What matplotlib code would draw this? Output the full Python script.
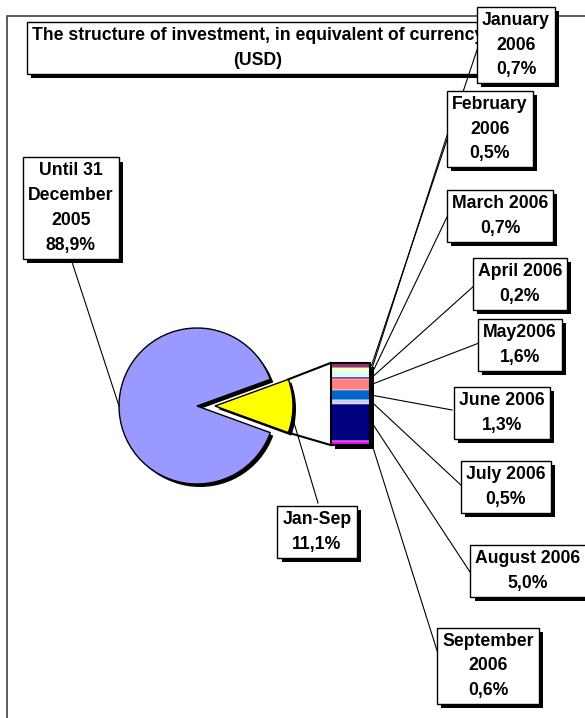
import numpy as np
import matplotlib
matplotlib.use('Agg')
import matplotlib.pyplot as plt
import matplotlib.patheffects as pe
from matplotlib.patches import Rectangle

# pie data: the "other" slice first so it can sit on the right
pie_labels = ['Jan-Sep', 'Until 31\nDecember\n2005']
pie_values = [11.1, 88.9]
pie_colors = ['#FFFF00', '#9999FF']

# bar of pie: monthly split of the Jan-Sep slice
months = ['January\n2006', 'February\n2006', 'March 2006', 'April 2006', 'May2006',
          'June 2006', 'July 2006', 'August 2006', 'September\n2006']
month_values = [0.7, 0.5, 0.7, 0.2, 1.6, 1.3, 0.5, 5.0, 0.6]
month_colors = ['#993366', '#FFFFCC', '#CCFFFF', '#660066', '#FF8080',
                '#0066CC', '#CCCCFF', '#000080', '#FF00FF']

title = 'The structure of investment, in equivalent of currency\n(USD)'

W, H = 585, 718


def Y(y):
    # picture rows run downwards, axes run upwards
    return H - y


def pct(v):
    return f'{v:.1f}'.replace('.', ',') + '%'


fig = plt.figure(figsize=(W / 100, H / 100), dpi=100)
ax = fig.add_axes([0, 0, 1, 1])

# chart area frame
ax.add_patch(Rectangle((7, -20), 620, Y(16) + 20, fill=False, ec='#404040', lw=1.2, zorder=0))

# pie + shadow
cx, cy, r, expl = 197, Y(406), 78, 18
start = -pie_values[0] / 100 * 360 / 2
ax.pie(pie_values, colors=['black', 'black'], startangle=start, explode=[expl, 0],
       center=(cx + 3, cy - 3), radius=r, wedgeprops=dict(linewidth=0), frame=False)
ax.pie(pie_values, colors=pie_colors, startangle=start, explode=[expl, 0],
       center=(cx, cy), radius=r, wedgeprops=dict(edgecolor='black', linewidth=1), frame=False)

# stacked bar
bar_x, bar_w, bar_top = 350, 39, Y(363)
vals = np.array(month_values)
scale = 82 / vals.sum()
heights = vals * scale
bottoms = bar_top - np.cumsum(heights)
total = heights.sum()
ax.bar(bar_x + 4, total, bottom=bar_top - total - 4, width=bar_w, color='black', zorder=2)
ax.bar(bar_x, heights, bottom=bottoms, width=bar_w, color=month_colors,
       edgecolor='white', linewidth=0.35, zorder=2)
ax.bar(bar_x, total, bottom=bar_top - total, width=bar_w, fill=False,
       edgecolor='black', linewidth=1.5, zorder=2)

# lines joining the exploded slice to the bar
half = np.deg2rad(-start)
ax0 = cx + expl
bar_left = bar_x - bar_w / 2
ax.plot([ax0 + r * np.cos(half), bar_left], [cy + r * np.sin(half), bar_top],
        color='black', lw=1.5, zorder=3)
ax.plot([ax0 + r * np.cos(half), bar_left], [cy - r * np.sin(half), bar_top - total],
        color='black', lw=1.5, zorder=3)

fnt = dict(family=['Liberation Sans', 'DejaVu Sans'], fontsize=12.7, fontweight='bold')


def label(x, y, s, z=5, pad=0.28):
    t = ax.text(x, Y(y), s, ha='center', va='center', linespacing=1.6, zorder=z,
                bbox=dict(boxstyle=f'square,pad={pad}', fc='white', ec='black', lw=1), **fnt)
    t.get_bbox_patch().set_path_effects([
        pe.SimplePatchShadow(offset=(3, -3), shadow_rgbFace='black', alpha=1), pe.Normal()])
    return t


# title
label(258, 48, title, z=3, pad=0.3)

# month labels and leaders
label_pos = [(516, 45), (490, 129), (500, 216), (520, 284), (520, 345),
             (502, 413), (506, 487), (528, 571), (488, 666)]
anchors = [(478, 47), (451, 123), (447, 217), (475, 285), (479, 343),
           (452, 410), (463, 487), (472, 575), (440, 660)]
bar_right = bar_x + bar_w / 2 + 2
for name, v, (lx, ly), (axx, ayy), b, h in zip(months, month_values, label_pos, anchors, bottoms, heights):
    ax.plot([bar_right, axx], [b + h / 2, Y(ayy)], color='black', lw=0.8, zorder=4)
    label(lx, ly, f'{name}\n{pct(v)}')

# pie labels and leaders
ax.plot([cx - r, 72], [cy, Y(262)], color='black', lw=0.8, zorder=4)
label(71, 208, f'{pie_labels[1]}\n{pct(pie_values[1])}')
a = np.deg2rad(-8)
ax.plot([ax0 + r * np.cos(a), 318], [cy + r * np.sin(a), Y(503)], color='black', lw=0.8, zorder=4)
label(317, 532, f'{pie_labels[0]}\n{pct(pie_values[0])}')

ax.set_xlim(0, W)
ax.set_ylim(0, H)
ax.set_aspect('auto')
ax.axis('off')

fig.savefig('out.png', dpi=100)
